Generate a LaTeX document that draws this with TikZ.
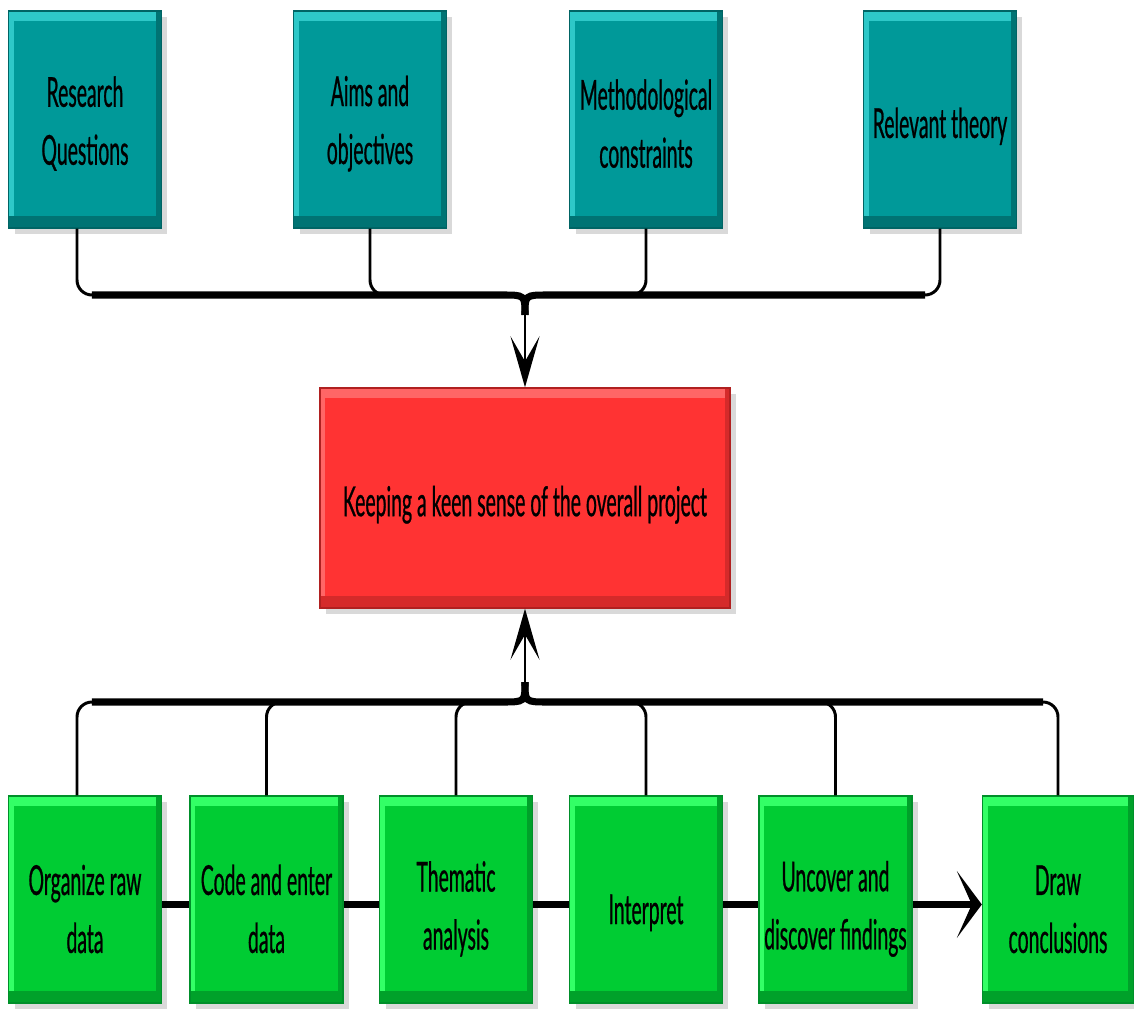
\documentclass[tikz,border=0pt]{standalone}
\usepackage{fontspec}
\newfontfamily\boxfont[FakeStretch=0.47,FakeBold=0.6]{Lato}
\usetikzlibrary{arrows.meta,shadows}
\definecolor{tealfill}{HTML}{009999}
\definecolor{teallight}{HTML}{2EC8C8}
\definecolor{tealdark}{HTML}{007373}
\definecolor{tealborder}{HTML}{006464}
\definecolor{redfill}{HTML}{FF3333}
\definecolor{redlight}{HTML}{FF6666}
\definecolor{reddark}{HTML}{D52A2A}
\definecolor{redborder}{HTML}{B02020}
\definecolor{greenfill}{HTML}{00CC33}
\definecolor{greenlight}{HTML}{33FF66}
\definecolor{greendark}{HTML}{00A12A}
\definecolor{greenborder}{HTML}{008F2A}
\begin{document}
\begin{tikzpicture}[x=0.02cm,y=-0.02cm,
    lift/.style={execute at begin node={\rule{0pt}{#1}}},
    box/.style={draw=#1border, fill=#1fill, line width=0.8pt, inner sep=0pt,
      align=center, font=\boxfont\fontsize{23.5}{33}\selectfont,
      drop shadow={shadow xshift=0.12cm, shadow yshift=-0.12cm, opacity=0.3},
      path picture={
        \fill[#1light] (path picture bounding box.north west) rectangle ([yshift=-0.2cm]path picture bounding box.north east);
        \fill[#1light] (path picture bounding box.north west) rectangle ([xshift=0.1cm]path picture bounding box.south west);
        \fill[#1dark] (path picture bounding box.south west) rectangle ([yshift=0.24cm]path picture bounding box.south east);
        \fill[#1dark] (path picture bounding box.south east) rectangle ([xshift=-0.1cm]path picture bounding box.north east);
      }},
    topbox/.style={box=teal, minimum width=3.06cm, minimum height=4.34cm},
    stepbox/.style={box=green, minimum width=3.06cm, minimum height=4.14cm},
    feeder/.style={line width=1.7pt, rounded corners=0.3cm},
    bar/.style={line width=4pt},
    tip/.style={line width=1.7pt, -{Stealth[length=1.02cm, width=0.58cm, inset=0.5cm]}},
    flow/.style={line width=4.5pt}]
  \useasboundingbox (0,0) rectangle (1134,1014);
  %%% the four inputs at the top
  \node[topbox, lift=55pt] (rq) at (85,119.5) {Research\\Questions};
  \node[topbox, lift=55pt] (aims) at (370,119.5) {Aims and\\objectives};
  \node[topbox, lift=55pt] (meth) at (646,119.5) {Methodological\\constraints};
  \node[topbox, lift=25pt] (theory) at (940,119.5) {Relevant theory};
  %%% the centre box
  \node[box=red, lift=25pt, minimum width=8.2cm, minimum height=4.4cm] (keen) at (525,498)
  {Keeping a keen sense of the overall project};
  %%% the analysis steps at the bottom
  \node[stepbox, lift=61pt] (org) at (85,899.5) {Organize raw\\data};
  \node[stepbox, lift=61pt] (code) at (266.5,899.5) {Code and enter\\data};
  \node[stepbox, lift=61pt] (them) at (456,899.5) {Thematic\\analysis};
  \node[stepbox, lift=32pt] (interp) at (646,899.5) {Interpret};
  \node[stepbox, lift=61pt] (uncover) at (835.5,899.5) {Uncover and\\discover findings};
  \node[stepbox, lift=61pt, minimum width=3.02cm] (concl) at (1058,899.5) {Draw\\conclusions};
  \coordinate (topbar) at (525,295);
  \coordinate (botbar) at (525,702);
  %%% upper brace
  \draw[feeder] ([xshift=-0.16cm]rq.south) |- ([xshift=0.6cm]rq.south |- topbar);
  \draw[feeder] (aims.south) |- ([xshift=0.6cm]aims.south |- topbar);
  \draw[feeder] (meth.south) |- ([xshift=-0.6cm]meth.south |- topbar);
  \draw[feeder] (theory.south) |- ([xshift=-0.6cm]theory.south |- topbar);
  \draw[bar] ([xshift=0.14cm]rq.south |- topbar) -- ([xshift=-0.45cm]topbar) .. controls (topbar) .. ([yshift=-0.4cm]topbar);
  \draw[bar] ([xshift=-0.3cm]theory.south |- topbar) -- ([xshift=0.45cm]topbar) .. controls (topbar) .. ([yshift=-0.4cm]topbar);
  \draw[tip] ([yshift=-0.3cm]topbar) -- (keen.north);
  %%% lower brace
  \draw[feeder] ([xshift=-0.16cm]org.north) |- ([xshift=0.6cm]org.north |- botbar);
  \draw[feeder] (code.north) |- ([xshift=0.6cm]code.north |- botbar);
  \draw[feeder] (them.north) |- ([xshift=0.6cm]them.north |- botbar);
  \draw[feeder] (interp.north) |- ([xshift=-0.6cm]interp.north |- botbar);
  \draw[feeder] (uncover.north) |- ([xshift=-0.6cm]uncover.north |- botbar);
  \draw[feeder] (concl.north) |- ([xshift=-0.6cm]concl.north |- botbar);
  \draw[bar] ([xshift=0.14cm]org.north |- botbar) -- ([xshift=-0.45cm]botbar) .. controls (botbar) .. ([yshift=0.4cm]botbar);
  \draw[bar] ([xshift=-0.3cm]concl.north |- botbar) -- ([xshift=0.45cm]botbar) .. controls (botbar) .. ([yshift=0.4cm]botbar);
  \draw[tip] ([yshift=0.3cm]botbar) -- (keen.south);
  %%% the chain of steps
  \draw[flow] ([yshift=-0.1cm]org.east) -- ([yshift=-0.1cm]code.west);
  \draw[flow] ([yshift=-0.1cm]code.east) -- ([yshift=-0.1cm]them.west);
  \draw[flow] ([yshift=-0.1cm]them.east) -- ([yshift=-0.1cm]interp.west);
  \draw[flow] ([yshift=-0.1cm]interp.east) -- ([yshift=-0.1cm]uncover.west);
  \draw[flow, -{Stealth[length=0.5cm, width=1.34cm, inset=0.3cm]}] ([yshift=-0.1cm]uncover.east) -- ([yshift=-0.1cm]concl.west);
\end{tikzpicture}
\end{document}
